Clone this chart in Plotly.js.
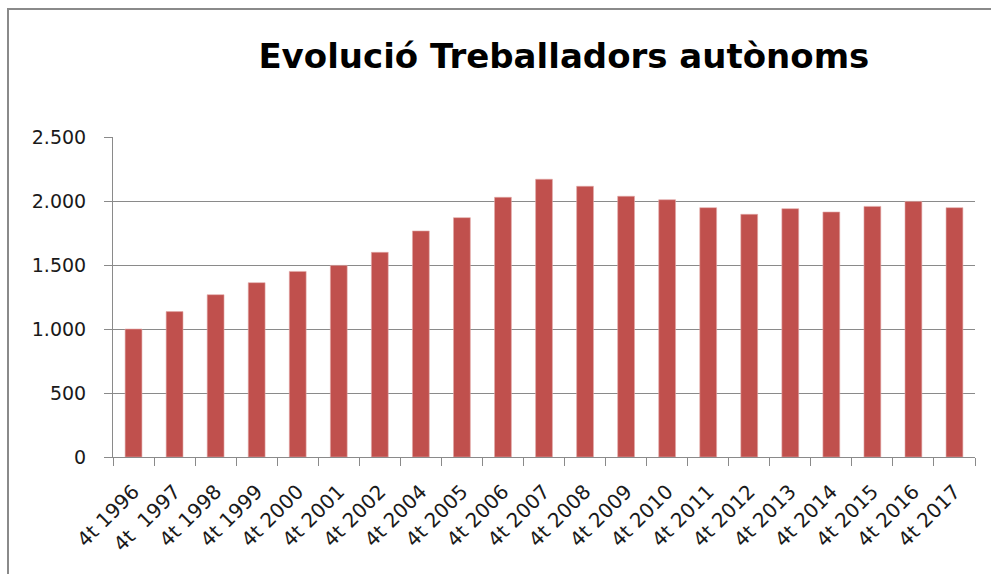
<!DOCTYPE html>
<html>
<head>
<meta charset="utf-8">
<script src="https://cdn.plot.ly/plotly-3.0.1.min.js"></script>
<style>
  html, body { margin: 0; padding: 0; background: #fff; }
  #wrap { position: relative; width: 991px; height: 574px; overflow: hidden; }
  #chart { position: absolute; left: 0; top: 0; width: 991px; height: 574px; }
  #frame { position: absolute; left: 7px; top: 8px; width: 990px; height: 580px;
           border-top: 2px solid #8a8a8a; border-left: 2px solid #8a8a8a; pointer-events: none; }
</style>
</head>
<body>
<div id="wrap">
  <div id="chart"></div>
  <div id="frame"></div>
</div>
<script>
// Categories (quarter labels)
const categories = [
  "4t\u00a01996", "4t\u00a0\u00a01997", "4t\u00a01998", "4t\u00a01999", "4t\u00a02000",
  "4t\u00a02001", "4t\u00a02002", "4t\u00a02004", "4t\u00a02005", "4t\u00a02006",
  "4t\u00a02007", "4t\u00a02008", "4t\u00a02009", "4t\u00a02010", "4t\u00a02011",
  "4t\u00a02012", "4t\u00a02013", "4t\u00a02014", "4t\u00a02015", "4t\u00a02016",
  "4t\u00a02017"
];
// Self-employed workers
const workers = [
  1000, 1136, 1268, 1362, 1450, 1497, 1599, 1766, 1870, 2029,
  2170, 2115, 2037, 2010, 1948, 1896, 1940, 1914, 1958, 1997,
  1948
];
// Y axis ticks
const yTickVals = [0, 500, 1000, 1500, 2000, 2500];

const trace = {
  type: "bar",
  x: categories,
  y: workers,
  marker: { color: "#C0504D", line: { width: 0.6, color: "#E3A9A8" } },
  hoverinfo: "x+y"
};

const layout = {
  width: 991,
  height: 574,
  margin: { l: 113, r: 16, t: 137, b: 117 },
  paper_bgcolor: "#ffffff",
  plot_bgcolor: "#ffffff",
  separators: ",.",
  bargap: 0.59,
  showlegend: false,
  font: { family: "DejaVu Sans, Verdana, sans-serif", color: "#1a1a1a", size: 19 },
  title: {
    text: "<b>Evolució Treballadors autònoms</b>",
    font: { family: "DejaVu Sans, Verdana, sans-serif", size: 34, color: "#000" },
    x: 0.569, xanchor: "center", xref: "container",
    y: 0.902, yanchor: "middle", yref: "container"
  },
  xaxis: {
    type: "category",
    tickangle: -45,
    ticks: "outside",
    tickson: "boundaries",
    ticklen: 8,
    tickcolor: "#8a8a8a",
    tickwidth: 1,
    showline: true,
    linecolor: "#8a8a8a",
    linewidth: 1,
    showgrid: false,
    ticklabelstandoff: 14,
    tickfont: { size: 20, color: "#1a1a1a" },
    fixedrange: true
  },
  yaxis: {
    range: [0, 2500],
    tickmode: "array",
    tickvals: yTickVals,
    tickformat: ",d",
    ticks: "outside",
    ticklen: 8,
    tickcolor: "#8a8a8a",
    tickwidth: 1,
    showline: true,
    linecolor: "#8a8a8a",
    linewidth: 1,
    showgrid: true,
    gridcolor: "#8a8a8a",
    gridwidth: 1,
    zeroline: false,
    ticklabelstandoff: 14,
    tickfont: { size: 19, color: "#1a1a1a" },
    fixedrange: true
  }
};

Plotly.newPlot("chart", [trace], layout, { displayModeBar: false, staticPlot: true });
</script>
</body>
</html>
